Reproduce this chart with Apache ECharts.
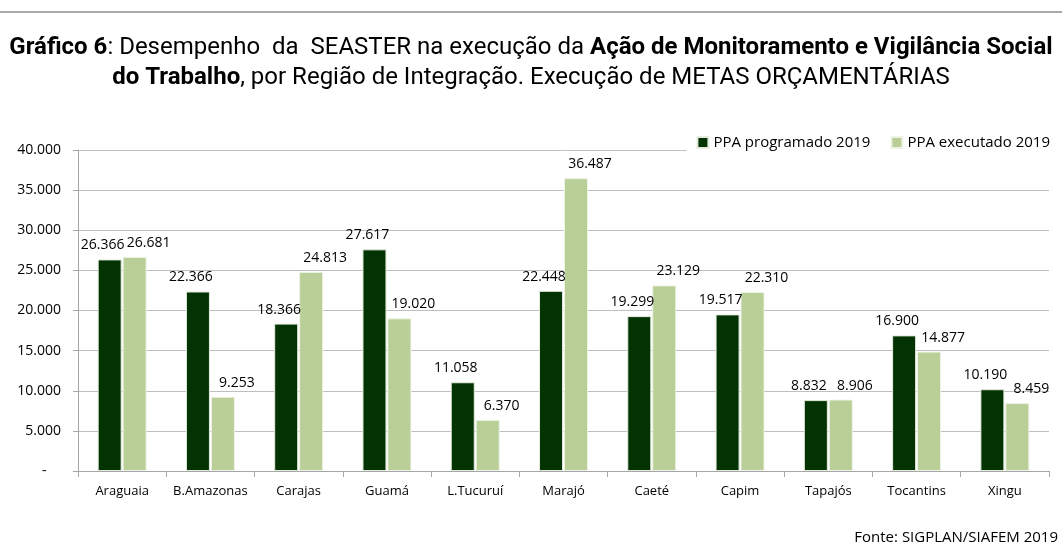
<!DOCTYPE html>
<html>
<head>
<meta charset="utf-8">
<script src="https://cdn.jsdelivr.net/npm/echarts@6/dist/echarts.min.js"></script>
<style>
  html, body { margin: 0; padding: 0; background: #fff; }
  #chart { width: 1062px; height: 556px; }
</style>
</head>
<body>
<div id="chart"></div>
<script>
const regioes = ['Araguaia', 'B.Amazonas', 'Carajas', 'Guamá', 'L.Tucuruí', 'Marajó', 'Caeté', 'Capim', 'Tapajós', 'Tocantins', 'Xingu']
const programado = [26366, 22366, 18366, 27617, 11058, 22448, 19299, 19517, 8832, 16900, 10190]
const executado = [26681, 9253, 24813, 19020, 6370, 36487, 23129, 22310, 8906, 14877, 8459]
const yTicks = [0, 5000, 10000, 15000, 20000, 25000, 30000, 35000, 40000]

const font = "'Open Sans', 'Noto Sans', sans-serif"
const titleFont = "'Roboto', 'Noto Sans', sans-serif"

// formato brasileiro: 26366 -> 26.366
function fmt(v) {
    return String(v).replace(/\B(?=(\d{3})+(?!\d))/g, '.')
}

const chart = echarts.init(document.getElementById('chart'))
const option = {
    animation: false,
    textStyle: { fontFamily: font },
    title: {
        left: 'center',
        top: 28,
        text: '{b|Gráfico 6}{n|: Desempenho  da  SEASTER na execução da }{b|Ação de Monitoramento e Vigilância Social}\n{b|do Trabalho}{n|, por Região de Integração. Execução de METAS ORÇAMENTÁRIAS}',
        textStyle: {
            fontWeight: 'normal',
            rich: {
                b: { fontFamily: titleFont, fontWeight: 'bold', fontSize: 24, color: '#000', lineHeight: 30 },
                n: { fontFamily: titleFont, fontWeight: 'normal', fontSize: 24, color: '#000', lineHeight: 30 }
            }
        }
    },
    graphic: [
        { type: 'line', shape: { x1: 0, y1: 12, x2: 1062, y2: 12 }, style: { stroke: '#8c8c8c', lineWidth: 1.5 } },
        {
            type: 'text', right: 4, top: 530,
            style: { text: 'Fonte: SIGPLAN/SIAFEM 2019', font: "15px 'Open Sans', 'Noto Sans', sans-serif", fill: '#000' }
        }
    ],
    legend: {
        right: 10,
        top: 133,
        backgroundColor: '#fff',
        padding: [2, 2, 4, 10],
        itemWidth: 11,
        itemHeight: 11,
        itemGap: 20,
        icon: 'rect',
        textStyle: { fontFamily: font, fontSize: 15, color: '#000' },
        data: ['PPA programado 2019', 'PPA executado 2019']
    },
    grid: { left: 78, right: 13, top: 150, bottom: 85 },
    xAxis: {
        type: 'category',
        data: regioes,
        axisLine: { lineStyle: { color: '#a6a6a6' } },
        axisTick: { show: true, length: 6, lineStyle: { color: '#a6a6a6' } },
        axisLabel: { color: '#000', fontSize: 13, margin: 14, interval: 0 }
    },
    yAxis: {
        type: 'value',
        min: 0,
        max: 40000,
        interval: 5000,
        axisLine: { show: true, lineStyle: { color: '#a6a6a6' } },
        axisTick: { show: true, length: 5, lineStyle: { color: '#a6a6a6' } },
        splitLine: { lineStyle: { color: '#bfbfbf' } },
        axisLabel: {
            color: '#000',
            fontSize: 14,
            margin: 17,
            formatter: function (v) {
                return yTicks.indexOf(v) === 0 ? '-    ' : fmt(v)
            }
        }
    },
    series: [{
        name: 'PPA programado 2019',
        type: 'bar',
        data: programado,
        barWidth: 24,
        barGap: '4%',
        itemStyle: { color: '#033303', borderColor: '#e4ebdc', borderWidth: 1 },
        label: { show: true, position: 'top', distance: 7, offset: [-7, 0], color: '#000', fontSize: 14, formatter: p => fmt(p.value) }
    }, {
        name: 'PPA executado 2019',
        type: 'bar',
        data: executado,
        barWidth: 24,
        itemStyle: { color: '#b9cf97', borderColor: '#eef3e6', borderWidth: 1 },
        label: { show: true, position: 'top', distance: 7, offset: [14, 0], color: '#000', fontSize: 14, formatter: p => fmt(p.value) }
    }]
}
chart.setOption(option)
</script>
</body>
</html>
